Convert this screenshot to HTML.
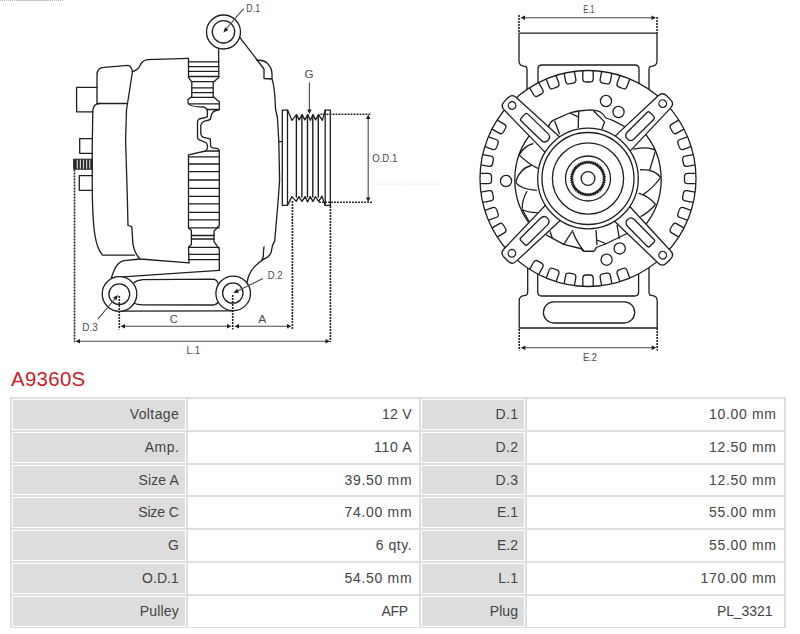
<!DOCTYPE html>
<html><head><meta charset="utf-8"><style>
html,body{margin:0;padding:0;background:#fff;width:800px;height:634px;overflow:hidden;position:relative}
.t{position:absolute;font-family:"Liberation Sans",sans-serif;font-size:14px;line-height:16px;color:#444;white-space:nowrap}
.title{position:absolute;left:11px;top:367px;font-family:"Liberation Sans",sans-serif;font-size:20.4px;line-height:24px;color:#c8202c;white-space:nowrap}
</style></head><body>
<svg width="800" height="370" viewBox="0 0 800 370" style="position:absolute;left:0;top:0"><g fill="none" stroke="#1e1e1e" stroke-width="1.3" stroke-linejoin="round" stroke-linecap="round"><path d="M97,87.3 L76.6,87.3 L76.6,111.8 L93,111.8"/><path d="M97,103.5 L97,75 Q97,67.5 104,67.3 L127.8,65.4 Q131,65.5 132.5,71.5"/><path d="M97,103.5 L126.5,103.5"/><path d="M99.5,103.5 Q93,103.8 92.8,111 L92.2,150 L92.3,195 C93,232 95.5,247 102.5,255.2 L134.4,255.2"/><path d="M92.3,138.7 L79.7,138.7 L79.7,153.3 L92.3,153.3"/><path d="M92.3,175.6 L79.3,175.6 L79.3,190.4 L92.3,190.4"/><rect x="74" y="159.2" width="18.3" height="10" fill="#2a2a2a" stroke="#222" stroke-width="1"/><path d="M77.3,160.2 L77.3,168.2 M80.4,160.2 L80.4,168.2 M83.5,160.2 L83.5,168.2 M86.6,160.2 L86.6,168.2 M89.7,160.2 L89.7,168.2 " stroke="#d0d0d0" stroke-width="1.2"/><path d="M132.5,71.5 C136.5,70.5 138.8,68.5 140,65.5 C141.5,62 143.5,60.2 147.5,59.6 L188.5,58.4"/><path d="M132.5,71.5 L126.5,110 L125.6,140 L127.4,200 L128,225.5 L131.8,226.6 L132.8,242.6 C133.5,248 135,254 140,259 L189,262.8"/><path d="M188.5,58.4 L188.5,77.4 L191.8,82.2 L191.8,96.4 L188.3,99.2 C187.8,101 188,103 188.6,104 C190,106 194,106.8 203.7,107 C206.5,108 207.4,110 207.4,110.9 L207.4,116.6 C205,118 200.5,118.5 199,119 C197.8,120 197.5,121 197.5,122.2 L197.5,137.8 C197.8,139 198.5,139.5 199,139.7 L206.5,143 C207.5,145 207.6,147 207.4,148.2 C207,150 206.5,150.6 205.5,151 L188.5,154.9 L188.5,227.9 L191.4,230.3 L191.4,244.5 L188.5,247.3 L189,262.8"/><path d="M218.6,48.5 L218.8,77.4 L213.2,82.2 L213.2,96.4 L219.3,102 L219.3,109.5 C215.5,110.5 213.5,111.2 213,112.3 C211.5,113.8 211,115.5 211,116.6 C210.8,118 210.6,118.8 210.3,119.4 C208,120.6 206,120.8 204,121.3 C202,122.5 201,124 200.8,125.5 L200.8,134 C201.3,136 202.5,137 203.7,137.4 L210.3,138.8 L210.7,146.4 C211.2,147.3 211.8,147.6 212.6,147.8 L217.8,148.7 C218.8,149.4 219.2,150 219.3,151 L219.3,225.5 L214,231.2 L214,241.6 L219.3,249.2 L219.3,270.4"/><path d="M188.5,61.8 L218.8,61.8 M188.5,66.6 L218.8,66.6 M188.5,71.3 L218.8,71.3 M188.5,76.5 L218.8,76.5 M191.8,81.7 L213.5,81.7 M191.8,87.8 L213.2,87.8 M191.8,92.6 L213.2,92.6 M191.6,97.3 L213.6,97.3 M188.6,103.8 L219.3,103.8 M207.2,109.5 L219.3,109.5 M205.5,151.0 L219.3,151.0 M188.5,156.8 L219.3,156.8 M188.5,164.0 L219.3,164.0 M188.5,171.6 L219.3,171.6 M188.5,180.0 L219.3,180.0 M188.5,188.3 L219.3,188.3 M188.5,196.4 L219.3,196.4 M188.5,203.9 L219.3,203.9 M188.5,212.3 L219.3,212.3 M188.5,219.9 L219.3,219.9 M188.5,227.9 L219.3,227.9 M191.4,235.5 L214.0,235.5 M191.4,239.0 L214.0,239.0 M188.5,247.3 L219.3,247.3 M188.5,254.4 L219.3,254.4 M188.5,259.6 L219.3,259.6 "/><path d="M240.2,37.9 L264,69 L264,78.5 L272,79"/><path d="M257,60.5 C265,59 271.5,65 272,74 L272,79 C273.8,84 275,95 275.5,109 L277.4,117.4 L278.8,141 L279.6,180 L278.2,200 L274.7,241.1 L272.5,245.4 L271.1,252.5 C269.5,256 267,258 264,258.9 C258,263 253.5,267 251.3,270.9 C248.5,275 247.5,279 247,282.3"/><path d="M264,246.8 C263.3,251 263.5,254 263.3,256.7 L262,259.6"/><path d="M278.8,141.6 L282.3,141.6"/><path d="M111.5,277.3 C114,270 116.5,262.5 124,260.7 L140,259"/><path d="M111.5,277.7 L219.2,270.4"/><path d="M134,282.7 Q137,280.2 143,279.6 L214,279.2 Q217,280 218,283"/><path d="M134,303 Q137,304.8 143,304.8 L214,305 Q217,304 218.6,302"/><path d="M119,311.2 L233,310.8"/><circle cx="223.5" cy="32" r="17" fill="#fff"/><circle cx="223.5" cy="31.8" r="11.2"/><circle cx="119.5" cy="294" r="17.3" fill="#fff"/><circle cx="119.3" cy="294.2" r="10.4"/><circle cx="233.2" cy="293.4" r="17.3" fill="#fff"/><circle cx="232.8" cy="293" r="10.2"/><rect x="282.3" y="110.1" width="5.2" height="95.3"/><rect x="325.2" y="110.1" width="5.1" height="95.3"/><path d="M287.5,110.1 L292,120.3 L296.5,114.6 L299.1,119.9 L302.1,114.6 L304.8,119.9 L307.8,114.6 L310.4,120.3 L313,114.6 L315.6,119.9 L318.6,114.6 L322.4,120.3 L325.2,110.1"/><path d="M287.5,205.4 L291.9,196.6 L296.2,201.4 L298.9,196.6 L302,201.4 L305,196.6 L307.6,201.9 L310.2,196.6 L312.9,201.4 L315.5,196.6 L318.6,201.4 L322,196.2 L325.2,205.4"/><path d="M296.4,115 L296.4,197 M301.9,115 L301.9,197 M307.5,115 L307.5,197 M312.8,115 L312.8,197 M318.3,115 L318.3,197 " stroke-width="1.4"/></g><g fill="none"><path d="M74.5,169.5 L74.5,342" stroke-dasharray="1.9 1.1" stroke-width="1.6" stroke="#222"/><path d="M330.4,206 L330.4,342" stroke-dasharray="1.9 1.1" stroke-width="1.6" stroke="#222"/><path d="M119.3,296 L119.3,329.5" stroke-dasharray="1.9 1.1" stroke-width="1.6" stroke="#222"/><path d="M232.7,295 L232.7,329.5" stroke-dasharray="1.9 1.1" stroke-width="1.6" stroke="#222"/><path d="M292.4,201 L292.4,329.5" stroke-dasharray="1.9 1.1" stroke-width="1.6" stroke="#222"/><path d="M320.5,114.2 L371,114.2" stroke-dasharray="1.9 1.1" stroke-width="1.6" stroke="#222"/><path d="M319,202.3 L372,202.3" stroke-dasharray="1.9 1.1" stroke-width="1.6" stroke="#222"/><path d="M376,184.2 L440,184.2" stroke="#d8d8d8" stroke-width="1" stroke-dasharray="1 1.5"/><path d="M78,341.3 L327,341.3 M123,326.2 L229,326.2 M237,326.2 L289,326.2 M368.2,118 L368.2,198 M309.4,82.5 L309.4,110 M97.6,319.3 L116,297.5 M263,278.4 L236.5,291.6 M243.6,8.7 L226,29" stroke="#4a4a4a" stroke-width="1.1"/><path d="M75.50,341.30 L80.00,339.10 L80.00,343.50 Z" fill="#1e1e1e" stroke="none"/><path d="M330.00,341.30 L325.50,343.50 L325.50,339.10 Z" fill="#1e1e1e" stroke="none"/><path d="M120.50,326.20 L125.00,324.00 L125.00,328.40 Z" fill="#1e1e1e" stroke="none"/><path d="M231.50,326.20 L227.00,328.40 L227.00,324.00 Z" fill="#1e1e1e" stroke="none"/><path d="M234.50,326.20 L239.00,324.00 L239.00,328.40 Z" fill="#1e1e1e" stroke="none"/><path d="M291.50,326.20 L287.00,328.40 L287.00,324.00 Z" fill="#1e1e1e" stroke="none"/><path d="M368.20,114.50 L370.40,119.00 L366.00,119.00 Z" fill="#1e1e1e" stroke="none"/><path d="M368.20,202.00 L366.00,197.50 L370.40,197.50 Z" fill="#1e1e1e" stroke="none"/><path d="M309.40,113.90 L307.20,109.40 L311.60,109.40 Z" fill="#1e1e1e" stroke="none"/><path d="M118.00,295.00 L116.47,300.24 L113.10,297.42 Z" fill="#1e1e1e" stroke="none"/><path d="M233.50,293.00 L236.96,288.77 L238.95,292.69 Z" fill="#1e1e1e" stroke="none"/><path d="M223.50,32.50 L225.03,27.26 L228.40,30.08 Z" fill="#1e1e1e" stroke="none"/><path d="M0,0.5 L16,0.5 M48,0.5 L64,0.5" stroke="#bdbdbd" stroke-width="1" stroke-dasharray="1 1"/><path d="M16,0.5 L48,0.5" stroke="#c9c6c0" stroke-width="1"/></g><g fill="none" stroke="#1e1e1e" stroke-width="1.3" stroke-linejoin="round"><path d="M527,110 L527,69.5 Q527,66.3 523.8,66.2 Q519,65.6 519,61 L519,33.2 L657,33.2 L657,61 Q657,65.6 652.2,66.2 Q649,66.3 649,69.5 L649,110" fill="#fff"/><path d="M538,110 L538,69 Q538,65 542,65 L635,65 Q639,65 639,69 L639,110"/><path d="M527.7,250 L527.7,292 Q527.7,295.5 524,295.6 Q519.2,296 519.2,301 L519.2,328 L657.2,328 L657.2,301 Q657.2,296 652.5,295.6 Q649,295.5 649,292 L649,250" fill="#fff"/><path d="M537.7,250 L537.7,292 Q537.7,296 541.7,296 L634.6,296 Q638.6,296 638.6,292 L638.6,250"/><rect x="543.4" y="301.8" width="91.3" height="21.2" rx="10.6"/><circle cx="588.0" cy="178.5" r="108.0" fill="#fff"/><path d="M497.33,236.85 L504.26,232.85 Q507.03,231.25 505.43,228.48 L503.43,225.02 Q501.83,222.25 499.06,223.85 L492.13,227.85"/><path d="M488.57,220.22 L496.09,217.49 Q499.10,216.39 498.00,213.38 L496.64,209.63 Q495.54,206.62 492.53,207.71 L485.02,210.45"/><path d="M482.84,202.32 L490.72,200.93 Q493.87,200.38 493.31,197.23 L492.62,193.29 Q492.06,190.14 488.91,190.69 L481.03,192.08"/><path d="M480.30,183.70 L488.30,183.70 Q491.50,183.70 491.50,180.50 L491.50,176.50 Q491.50,173.30 488.30,173.30 L480.30,173.30"/><path d="M481.03,164.92 L488.91,166.31 Q492.06,166.86 492.62,163.71 L493.31,159.77 Q493.87,156.62 490.72,156.07 L482.84,154.68"/><path d="M485.02,146.55 L492.53,149.29 Q495.54,150.38 496.64,147.37 L498.00,143.62 Q499.10,140.61 496.09,139.51 L488.57,136.78"/><path d="M492.13,129.15 L499.06,133.15 Q501.83,134.75 503.43,131.98 L505.43,128.52 Q507.03,125.75 504.26,124.15 L497.33,120.15"/><path d="M678.67,120.15 L671.74,124.15 Q668.97,125.75 670.57,128.52 L672.57,131.98 Q674.17,134.75 676.94,133.15 L683.87,129.15"/><path d="M687.43,136.78 L679.91,139.51 Q676.90,140.61 678.00,143.62 L679.36,147.37 Q680.46,150.38 683.47,149.29 L690.98,146.55"/><path d="M693.16,154.68 L685.28,156.07 Q682.13,156.62 682.69,159.77 L683.38,163.71 Q683.94,166.86 687.09,166.31 L694.97,164.92"/><path d="M695.70,173.30 L687.70,173.30 Q684.50,173.30 684.50,176.50 L684.50,180.50 Q684.50,183.70 687.70,183.70 L695.70,183.70"/><path d="M694.97,192.08 L687.09,190.69 Q683.94,190.14 683.38,193.29 L682.69,197.23 Q682.13,200.38 685.28,200.93 L693.16,202.32"/><path d="M690.98,210.45 L683.47,207.71 Q680.46,206.62 679.36,209.63 L678.00,213.38 Q676.90,216.39 679.91,217.49 L687.43,220.22"/><path d="M683.87,227.85 L676.94,223.85 Q674.17,222.25 672.57,225.02 L670.57,228.48 Q668.97,231.25 671.74,232.85 L678.67,236.85"/><path d="M529.65,87.83 L533.65,94.76 Q535.25,97.53 538.02,95.93 L541.48,93.93 Q544.25,92.33 542.65,89.56 L538.65,82.63"/><path d="M546.28,79.07 L549.01,86.59 Q550.11,89.60 553.12,88.50 L556.87,87.14 Q559.88,86.04 558.79,83.03 L556.05,75.52"/><path d="M564.18,73.34 L565.57,81.22 Q566.12,84.37 569.27,83.81 L573.21,83.12 Q576.36,82.56 575.81,79.41 L574.42,71.53"/><path d="M582.80,70.80 L582.80,78.80 Q582.80,82.00 586.00,82.00 L590.00,82.00 Q593.20,82.00 593.20,78.80 L593.20,70.80"/><path d="M601.58,71.53 L600.19,79.41 Q599.64,82.56 602.79,83.12 L606.73,83.81 Q609.88,84.37 610.43,81.22 L611.82,73.34"/><path d="M619.95,75.52 L617.21,83.03 Q616.12,86.04 619.13,87.14 L622.88,88.50 Q625.89,89.60 626.99,86.59 L629.72,79.07"/><path d="M629.72,277.93 L626.99,270.41 Q625.89,267.40 622.88,268.50 L619.13,269.86 Q616.12,270.96 617.21,273.97 L619.95,281.48"/><path d="M611.82,283.66 L610.43,275.78 Q609.88,272.63 606.73,273.19 L602.79,273.88 Q599.64,274.44 600.19,277.59 L601.58,285.47"/><path d="M593.20,286.20 L593.20,278.20 Q593.20,275.00 590.00,275.00 L586.00,275.00 Q582.80,275.00 582.80,278.20 L582.80,286.20"/><path d="M574.42,285.47 L575.81,277.59 Q576.36,274.44 573.21,273.88 L569.27,273.19 Q566.12,272.63 565.57,275.78 L564.18,283.66"/><path d="M556.05,281.48 L558.79,273.97 Q559.88,270.96 556.87,269.86 L553.12,268.50 Q550.11,267.40 549.01,270.41 L546.28,277.93"/><path d="M538.65,274.37 L542.65,267.44 Q544.25,264.67 541.48,263.07 L538.02,261.07 Q535.25,259.47 533.65,262.24 L529.65,269.17"/><circle cx="506" cy="181" r="5.6"/><circle cx="606" cy="101" r="5.6"/><circle cx="618.5" cy="112" r="5.6"/><circle cx="619.7" cy="248.4" r="5.6"/><circle cx="606.6" cy="259.7" r="5.6"/><path d="M642.40,130.52 A73.2,73.2 0 0 1 642.40,228.48 M533.60,228.48 A73.2,73.2 0 0 1 533.60,130.52 "/><path d="M548,128 Q550,121 554.75,119.6 L569,113.25 Q575,111.5 578.75,111 L590,109.9 Q597,110.5 600,111.8 Q603.5,114 605.75,118 Q611,119.5 614.75,121.4 L628,128.5"/><path d="M543,231.5 Q545,234.5 547.5,235.6 L563.75,244.4 L581.25,248.75 Q582.5,251 583.75,251.25 L593.75,251.25 Q595.5,250 596.25,247.5 L606,243.75 L629,232.5"/><path d="M554.6,120.8 L559.6,134.3 M569.75,113 L578.2,116.9 M578.75,111.25 L578.2,128.1 M593.4,110.7 L604.6,121.9 L601.8,129.25 M550,231.25 L552.5,238.75 M573,230 L563.75,244.4 M573,232 Q577,243 583.75,250.6 M596,230 L597,245 M597,240 L606,243.75 M617,225 L619.4,238.75 M519.2,154.9 Q527,163 537.7,168.3 M519.2,154.9 Q524,146 533.4,143.5 M515.7,181.8 Q520,168 531.3,165.5 M515.7,181.8 Q519,189 537,190.3 M527,191.3 Q522,200 522.2,208.7 M522.2,209.5 Q527,212.5 537.6,212.6 M522.2,209.5 L529,221.3 M633.5,149.2 Q650,146 655.5,150.6 M655.5,150.6 L649.8,169.75 M639.9,169.75 Q655,169 660.5,177.5 Q655,186 643.4,194.6 M638.5,193.2 Q650,197 655.5,204.5 M655.5,204.5 Q648,213 640.6,216.6"/><g transform="translate(587.5,178.6) rotate(-135.89)"><path d="M40,-10.9 L107.32,-8.7 Q113.32,-8.7 113.32,-2.6999999999999993 L113.32,2.6999999999999993 Q113.32,8.7 107.32,8.7 L40,10.9 Z" fill="#fff"/><circle cx="105.02" cy="0" r="3.8"/><path d="M89.72,-2.8 Q89.72,-4.8 87.72,-4.8 L60.02,-4.8 Q55.02,-4.8 55.02,0 Q55.02,4.8 60.02,4.8 L87.72,4.8 Q89.72,4.8 89.72,2.8 Z"/></g><g transform="translate(587.5,178.6) rotate(-44.92)"><path d="M40,-10.9 L108.51,-8.7 Q114.51,-8.7 114.51,-2.6999999999999993 L114.51,2.6999999999999993 Q114.51,8.7 108.51,8.7 L40,10.9 Z" fill="#fff"/><circle cx="106.21" cy="0" r="3.8"/><path d="M90.91,-2.8 Q90.91,-4.8 88.91,-4.8 L61.21,-4.8 Q56.21,-4.8 56.21,0 Q56.21,4.8 61.21,4.8 L88.91,4.8 Q90.91,4.8 90.91,2.8 Z"/></g><g transform="translate(587.5,178.6) rotate(45.53)"><path d="M40,-10.9 L109.64,-8.7 Q115.64,-8.7 115.64,-2.6999999999999993 L115.64,2.6999999999999993 Q115.64,8.7 109.64,8.7 L40,10.9 Z" fill="#fff"/><circle cx="107.34" cy="0" r="3.8"/><path d="M92.04,-2.8 Q92.04,-4.8 90.04,-4.8 L62.34,-4.8 Q57.34,-4.8 57.34,0 Q57.34,4.8 62.34,4.8 L90.04,4.8 Q92.04,4.8 92.04,2.8 Z"/></g><g transform="translate(587.5,178.6) rotate(135.34)"><path d="M40,-10.9 L108.58,-8.7 Q114.58,-8.7 114.58,-2.6999999999999993 L114.58,2.6999999999999993 Q114.58,8.7 108.58,8.7 L40,10.9 Z" fill="#fff"/><circle cx="106.28" cy="0" r="3.8"/><path d="M90.98,-2.8 Q90.98,-4.8 88.98,-4.8 L61.28,-4.8 Q56.28,-4.8 56.28,0 Q56.28,4.8 61.28,4.8 L88.98,4.8 Q90.98,4.8 90.98,2.8 Z"/></g><circle cx="588.0" cy="178.5" r="50.3" fill="#fff"/><circle cx="588.0" cy="178.5" r="46"/><circle cx="588.0" cy="178.5" r="35.6"/><circle cx="588.0" cy="178.5" r="22.5"/><circle cx="588.0" cy="178.5" r="6.9"/><path d="M605.40,178.50 L603.18,179.35 L605.29,180.45 L602.99,181.05 L604.96,182.37 L602.61,182.71 L604.42,184.25 L602.04,184.32 L603.68,186.05 L601.30,185.85 L602.73,187.76 L600.40,187.30 L601.60,189.35 L599.33,188.63 L600.30,190.80 L598.13,189.83 L598.85,192.10 L596.80,190.90 L597.26,193.23 L595.35,191.80 L595.55,194.18 L593.82,192.54 L593.75,194.92 L592.21,193.11 L591.87,195.46 L590.55,193.49 L589.95,195.79 L588.85,193.68 L588.00,195.90 L587.15,193.68 L586.05,195.79 L585.45,193.49 L584.13,195.46 L583.79,193.11 L582.25,194.92 L582.18,192.54 L580.45,194.18 L580.65,191.80 L578.74,193.23 L579.20,190.90 L577.15,192.10 L577.87,189.83 L575.70,190.80 L576.67,188.63 L574.40,189.35 L575.60,187.30 L573.27,187.76 L574.70,185.85 L572.32,186.05 L573.96,184.32 L571.58,184.25 L573.39,182.71 L571.04,182.37 L573.01,181.05 L570.71,180.45 L572.82,179.35 L570.60,178.50 L572.82,177.65 L570.71,176.55 L573.01,175.95 L571.04,174.63 L573.39,174.29 L571.58,172.75 L573.96,172.68 L572.32,170.95 L574.70,171.15 L573.27,169.24 L575.60,169.70 L574.40,167.65 L576.67,168.37 L575.70,166.20 L577.87,167.17 L577.15,164.90 L579.20,166.10 L578.74,163.77 L580.65,165.20 L580.45,162.82 L582.18,164.46 L582.25,162.08 L583.79,163.89 L584.13,161.54 L585.45,163.51 L586.05,161.21 L587.15,163.32 L588.00,161.10 L588.85,163.32 L589.95,161.21 L590.55,163.51 L591.87,161.54 L592.21,163.89 L593.75,162.08 L593.82,164.46 L595.55,162.82 L595.35,165.20 L597.26,163.77 L596.80,166.10 L598.85,164.90 L598.13,167.17 L600.30,166.20 L599.33,168.37 L601.60,167.65 L600.40,169.70 L602.73,169.24 L601.30,171.15 L603.68,170.95 L602.04,172.68 L604.42,172.75 L602.61,174.29 L604.96,174.63 L602.99,175.95 L605.29,176.55 L603.18,177.65 L605.40,178.50 " stroke-width="1.25"/></g><g fill="none"><path d="M519,15 L519,33" stroke-dasharray="1.9 1.1" stroke-width="1.6" stroke="#222"/><path d="M657,17 L657,33" stroke-dasharray="1.9 1.1" stroke-width="1.6" stroke="#222"/><path d="M519.2,329 L519.2,350.5" stroke-dasharray="1.9 1.1" stroke-width="1.6" stroke="#222"/><path d="M657.2,328 L657.2,350.5" stroke-dasharray="1.9 1.1" stroke-width="1.6" stroke="#222"/><path d="M523,17.7 L653,17.7 M523,347.8 L653,347.8" stroke="#4a4a4a" stroke-width="1.1"/><path d="M520.50,17.70 L525.00,15.50 L525.00,19.90 Z" fill="#1e1e1e" stroke="none"/><path d="M656.00,17.70 L651.50,19.90 L651.50,15.50 Z" fill="#1e1e1e" stroke="none"/><path d="M520.80,347.80 L525.30,345.60 L525.30,350.00 Z" fill="#1e1e1e" stroke="none"/><path d="M656.20,347.80 L651.70,350.00 L651.70,345.60 Z" fill="#1e1e1e" stroke="none"/></g><g fill="#4a4a4a" font-family="Liberation Sans, sans-serif"><text x="246.3" y="11.9" font-size="11" textLength="13.8" lengthAdjust="spacingAndGlyphs">D.1</text><text x="304.6" y="77.6" font-size="11" textLength="9" lengthAdjust="spacingAndGlyphs">G</text><text x="372.2" y="162" font-size="11" textLength="25.2" lengthAdjust="spacingAndGlyphs">O.D.1</text><text x="82.3" y="330.7" font-size="11" textLength="15.4" lengthAdjust="spacingAndGlyphs">D.3</text><text x="267.8" y="278.5" font-size="11" textLength="14.6" lengthAdjust="spacingAndGlyphs">D.2</text><text x="169.8" y="322.8" font-size="11" textLength="8" lengthAdjust="spacingAndGlyphs">C</text><text x="258.2" y="322.7" font-size="11" textLength="8" lengthAdjust="spacingAndGlyphs">A</text><text x="186.5" y="353.5" font-size="11" textLength="13.6" lengthAdjust="spacingAndGlyphs">L.1</text><text x="583.3" y="13" font-size="11" textLength="11.2" lengthAdjust="spacingAndGlyphs">E.1</text><text x="583" y="361.3" font-size="11" textLength="14" lengthAdjust="spacingAndGlyphs">E.2</text></g></svg>
<div class="title" style="letter-spacing:0.331px">A9360S</div>
<div style="position:absolute;left:10px;top:397px;width:776px;height:231px;background:#dedede"></div><div style="position:absolute;left:12px;top:399px;width:172px;height:29px;border:1px solid #fff;background:#dddddd"></div><div class="t" style="right:620.80px;top:406.0px;letter-spacing:0.4px">Voltage</div><div style="position:absolute;left:188px;top:399px;width:229px;height:29px;border:1px solid #fff;background:#ffffff"></div><div class="t" style="right:388.09px;top:406.0px;letter-spacing:0.305px">12 V</div><div style="position:absolute;left:421px;top:399px;width:102px;height:29px;border:1px solid #fff;background:#dddddd"></div><div class="t" style="right:281.68px;top:406.0px;letter-spacing:0.323px">D.1</div><div style="position:absolute;left:527px;top:399px;width:255px;height:29px;border:1px solid #fff;background:#ffffff"></div><div class="t" style="right:23.32px;top:406.0px;letter-spacing:0.683px">10.00 mm</div><div style="position:absolute;left:12px;top:432px;width:172px;height:29px;border:1px solid #fff;background:#dddddd"></div><div class="t" style="right:620.75px;top:438.8px;letter-spacing:0.447px">Amp.</div><div style="position:absolute;left:188px;top:432px;width:229px;height:29px;border:1px solid #fff;background:#ffffff"></div><div class="t" style="right:387.67px;top:438.8px;letter-spacing:0.729px">110 A</div><div style="position:absolute;left:421px;top:432px;width:102px;height:29px;border:1px solid #fff;background:#dddddd"></div><div class="t" style="right:281.68px;top:438.8px;letter-spacing:0.323px">D.2</div><div style="position:absolute;left:527px;top:432px;width:255px;height:29px;border:1px solid #fff;background:#ffffff"></div><div class="t" style="right:23.32px;top:438.8px;letter-spacing:0.683px">12.50 mm</div><div style="position:absolute;left:12px;top:465px;width:172px;height:28px;border:1px solid #fff;background:#dddddd"></div><div class="t" style="right:621.10px;top:471.6px;letter-spacing:0.104px">Size A</div><div style="position:absolute;left:188px;top:465px;width:229px;height:28px;border:1px solid #fff;background:#ffffff"></div><div class="t" style="right:387.72px;top:471.6px;letter-spacing:0.683px">39.50 mm</div><div style="position:absolute;left:421px;top:465px;width:102px;height:28px;border:1px solid #fff;background:#dddddd"></div><div class="t" style="right:281.68px;top:471.6px;letter-spacing:0.323px">D.3</div><div style="position:absolute;left:527px;top:465px;width:255px;height:28px;border:1px solid #fff;background:#ffffff"></div><div class="t" style="right:23.32px;top:471.6px;letter-spacing:0.683px">12.50 mm</div><div style="position:absolute;left:12px;top:497px;width:172px;height:29px;border:1px solid #fff;background:#dddddd"></div><div class="t" style="right:621.32px;top:504.4px;letter-spacing:-0.119px">Size C</div><div style="position:absolute;left:188px;top:497px;width:229px;height:29px;border:1px solid #fff;background:#ffffff"></div><div class="t" style="right:387.72px;top:504.4px;letter-spacing:0.683px">74.00 mm</div><div style="position:absolute;left:421px;top:497px;width:102px;height:29px;border:1px solid #fff;background:#dddddd"></div><div class="t" style="right:282.02px;top:504.4px;letter-spacing:-0.024px">E.1</div><div style="position:absolute;left:527px;top:497px;width:255px;height:29px;border:1px solid #fff;background:#ffffff"></div><div class="t" style="right:23.32px;top:504.4px;letter-spacing:0.683px">55.00 mm</div><div style="position:absolute;left:12px;top:530px;width:172px;height:29px;border:1px solid #fff;background:#dddddd"></div><div class="t" style="right:621.86px;top:537.2px;letter-spacing:-0.657px">G</div><div style="position:absolute;left:188px;top:530px;width:229px;height:29px;border:1px solid #fff;background:#ffffff"></div><div class="t" style="right:387.89px;top:537.2px;letter-spacing:0.514px">6 qty.</div><div style="position:absolute;left:421px;top:530px;width:102px;height:29px;border:1px solid #fff;background:#dddddd"></div><div class="t" style="right:282.02px;top:537.2px;letter-spacing:-0.024px">E.2</div><div style="position:absolute;left:527px;top:530px;width:255px;height:29px;border:1px solid #fff;background:#ffffff"></div><div class="t" style="right:23.32px;top:537.2px;letter-spacing:0.683px">55.00 mm</div><div style="position:absolute;left:12px;top:563px;width:172px;height:29px;border:1px solid #fff;background:#dddddd"></div><div class="t" style="right:621.15px;top:570.0px;letter-spacing:0.049px">O.D.1</div><div style="position:absolute;left:188px;top:563px;width:229px;height:29px;border:1px solid #fff;background:#ffffff"></div><div class="t" style="right:387.72px;top:570.0px;letter-spacing:0.683px">54.50 mm</div><div style="position:absolute;left:421px;top:563px;width:102px;height:29px;border:1px solid #fff;background:#dddddd"></div><div class="t" style="right:281.84px;top:570.0px;letter-spacing:0.163px">L.1</div><div style="position:absolute;left:527px;top:563px;width:255px;height:29px;border:1px solid #fff;background:#ffffff"></div><div class="t" style="right:23.33px;top:570.0px;letter-spacing:0.673px">170.00 mm</div><div style="position:absolute;left:12px;top:596px;width:172px;height:29px;border:1px solid #fff;background:#dddddd"></div><div class="t" style="right:621.00px;top:602.8px;letter-spacing:0.204px">Pulley</div><div style="position:absolute;left:188px;top:596px;width:229px;height:29px;border:1px solid #fff;background:#ffffff"></div><div class="t" style="right:392.10px;top:602.8px;letter-spacing:-0.3px">AFP</div><div style="position:absolute;left:421px;top:596px;width:102px;height:29px;border:1px solid #fff;background:#dddddd"></div><div class="t" style="right:281.91px;top:602.8px;letter-spacing:0.088px">Plug</div><div style="position:absolute;left:527px;top:596px;width:255px;height:29px;border:1px solid #fff;background:#ffffff"></div><div class="t" style="right:27.58px;top:602.8px;letter-spacing:-0.079px">PL_3321</div>
</body></html>
